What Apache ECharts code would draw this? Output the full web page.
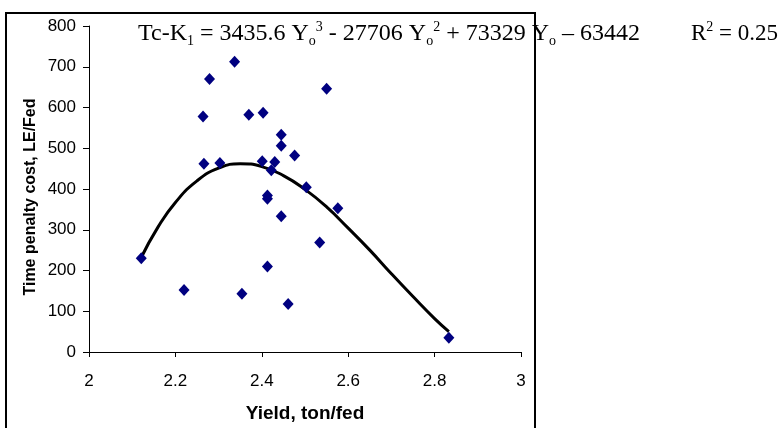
<!DOCTYPE html>
<html>
<head>
<meta charset="utf-8">
<script src="https://cdn.jsdelivr.net/npm/echarts@6/dist/echarts.min.js"></script>
<style>html,body{margin:0;padding:0;background:#fff}#c{width:784px;height:428px}</style>
</head>
<body>
<div id="c"></div>
<script>
// Observed points (yield ton/fed, time penalty cost LE/Fed)
var yieldVals = [2.121, 2.220, 2.279, 2.337, 2.550, 2.264, 2.370, 2.403, 2.445, 2.445, 2.476, 2.266, 2.303, 2.401, 2.430, 2.422, 2.503, 2.413, 2.413, 2.576, 2.445, 2.534, 2.413, 2.354, 2.461, 2.833];
var costVals  = [230, 152, 670, 712, 646, 578, 582, 587, 533, 506, 482, 462, 464, 468, 466, 446, 404, 384, 376, 353, 333, 269, 210, 143, 118, 35];
// Trend line
var trendX = [2.12, 2.16, 2.20, 2.25, 2.30, 2.35, 2.40, 2.45, 2.50, 2.55, 2.60, 2.65, 2.70, 2.75, 2.80, 2.833];
var trendY = [230, 307, 367, 420, 451, 462, 455, 433, 399, 356, 304, 250, 192, 136, 82, 50];
var xTicks = [2, 2.2, 2.4, 2.6, 2.8, 3];
var yTicks = [0, 100, 200, 300, 400, 500, 600, 700, 800];

var scatterData = yieldVals.map(function (v, i) { return [v, costVals[i]]; });
var lineData = trendX.map(function (v, i) { return [v, trendY[i]]; });

var chart = echarts.init(document.getElementById('c'), null, {renderer: 'canvas'});
var serif = '"Liberation Serif", "Times New Roman", serif';
var sans = '"Liberation Sans", Arial, sans-serif';
chart.setOption({
  animation: false,
  backgroundColor: '#fff',
  grid: {left: 89, right: 263, top: 26, bottom: 76},
  xAxis: {
    type: 'value', min: xTicks[0], max: xTicks[xTicks.length - 1], interval: 0.2,
    axisLine: {lineStyle: {color: '#000', width: 1}},
    axisTick: {show: true, length: 5, lineStyle: {color: '#000'}},
    splitLine: {show: false},
    axisLabel: {color: '#000', fontSize: 17, fontFamily: sans, margin: 21},
    name: 'Yield, ton/fed', nameLocation: 'middle', nameGap: 52,
    nameTextStyle: {color: '#000', fontSize: 19, fontWeight: 'bold', fontFamily: sans}
  },
  yAxis: {
    type: 'value', min: yTicks[0], max: yTicks[yTicks.length - 1], interval: 100,
    axisLine: {show: true, lineStyle: {color: '#000', width: 1}},
    axisTick: {show: true, length: 6, lineStyle: {color: '#000'}},
    splitLine: {show: false},
    axisLabel: {color: '#000', fontSize: 17, fontFamily: sans, margin: 13}
  },
  series: [
    {
      type: 'line', data: lineData, smooth: true, showSymbol: false, z: 3,
      lineStyle: {color: '#000', width: 3}
    },
    {
      type: 'scatter', data: scatterData, symbol: 'diamond', symbolSize: [11, 12], z: 4,
      itemStyle: {color: '#000080', opacity: 1}
    }
  ],
  graphic: [
    {
      type: 'rect', shape: {x: 6, y: 13, width: 529, height: 500}, silent: true,
      style: {fill: 'none', stroke: '#000', lineWidth: 2}
    },
    {
      type: 'text', x: 31, y: 197, rotation: Math.PI / 2, silent: true,
      style: {
        text: 'Time penalty cost, LE/Fed', fill: '#000',
        font: 'bold 16px "Liberation Sans", Arial, sans-serif',
        align: 'center', verticalAlign: 'middle'
      }
    },
    {
      type: 'text', left: 138, top: 20, silent: true,
      style: {
        text: '{m|Tc-K}{sub|1}{m| = 3435.6 Y}{sub|o}{sup|3}{m| - 27706 Y}{sub|o}{sup|2}{m| + 73329 Y}{sub|o}{m| \u2013 63442}',
        rich: {
          m: {fontSize: 24, fontFamily: serif, fill: '#000', lineHeight: 28, verticalAlign: 'middle'},
          sub: {fontSize: 14, fontFamily: serif, fill: '#000', lineHeight: 28, verticalAlign: 'bottom'},
          sup: {fontSize: 14, fontFamily: serif, fill: '#000', lineHeight: 28, verticalAlign: 'top'}
        }
      }
    },
    {
      type: 'text', left: 691, top: 20, silent: true,
      style: {
        text: '{m|R}{sup|2}{m| = 0.25}',
        rich: {
          m: {fontSize: 23, fontFamily: serif, fill: '#000', lineHeight: 28, verticalAlign: 'middle'},
          sup: {fontSize: 14, fontFamily: serif, fill: '#000', lineHeight: 28, verticalAlign: 'top'}
        }
      }
    }
  ]
});
</script>
</body>
</html>
